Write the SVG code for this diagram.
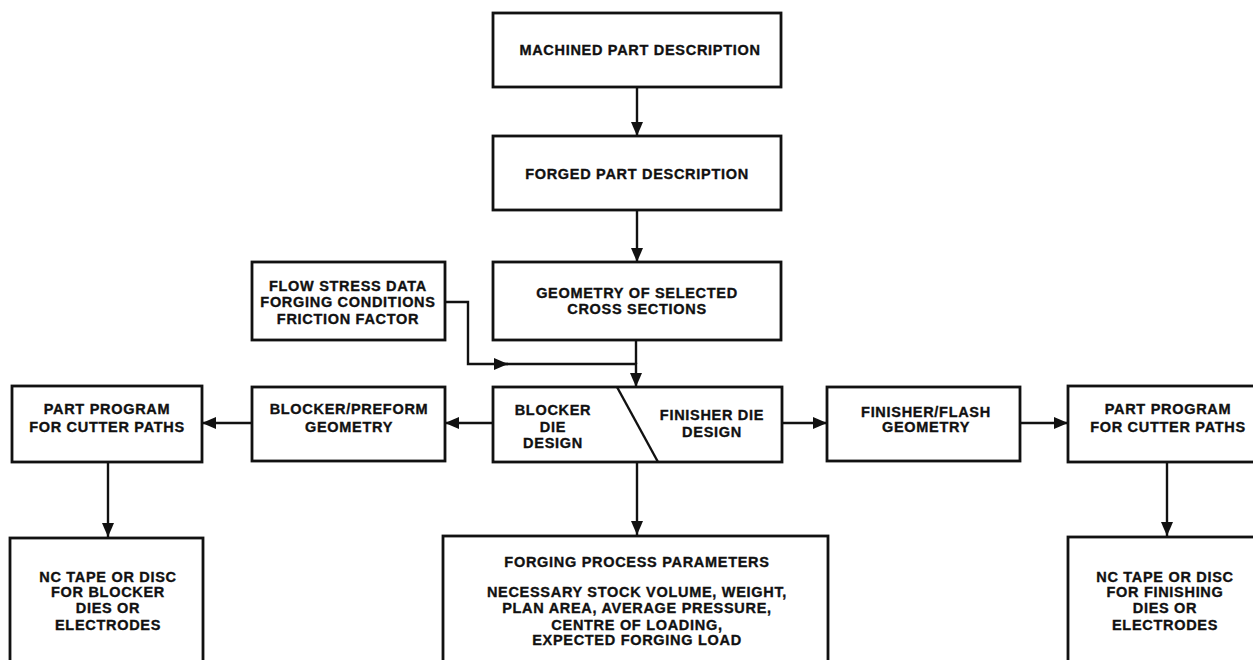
<svg xmlns="http://www.w3.org/2000/svg" width="1253" height="660" viewBox="0 0 1253 660">
<style>
.box{fill:#fff;stroke:#111;stroke-width:2.8}
.t{font-family:"Liberation Sans",Arial,sans-serif;font-weight:bold;font-size:14.5px;letter-spacing:0.7px;fill:#111;stroke:#111;stroke-width:0.35;text-anchor:middle}
.c{fill:none;stroke:#111;stroke-width:2.4}
</style>
<defs>
<marker id="ah" markerWidth="14" markerHeight="12" refX="14" refY="6" orient="auto" markerUnits="userSpaceOnUse">
<path d="M0,0 L14,6 L0,12 z" fill="#111"/>
</marker>
</defs>
<rect width="1253" height="660" fill="#fff"/>
<g id="connectors">
<path class="c" d="M637,87 V136" marker-end="url(#ah)"/>
<path class="c" d="M637,210 V262" marker-end="url(#ah)"/>
<path class="c" d="M445,302 H468 V364 H508" marker-end="url(#ah)"/>
<path class="c" d="M500,364 H636 V387" marker-end="url(#ah)"/>
<path class="c" d="M636,340 V364"/>
<path class="c" d="M493,423 H445" marker-end="url(#ah)"/>
<path class="c" d="M252,423 H202" marker-end="url(#ah)"/>
<path class="c" d="M782,423 H827" marker-end="url(#ah)"/>
<path class="c" d="M1020,423 H1068" marker-end="url(#ah)"/>
<path class="c" d="M108,462 V537" marker-end="url(#ah)"/>
<path class="c" d="M637,462 V535" marker-end="url(#ah)"/>
<path class="c" d="M1167,462 V536" marker-end="url(#ah)"/>
</g>
<g id="machined">
<rect class="box" x="493" y="13" width="288" height="74"/>
<text class="t" x="640" y="55">MACHINED PART DESCRIPTION</text>
</g>
<g id="forged">
<rect class="box" x="493" y="136" width="288" height="74"/>
<text class="t" x="637" y="179">FORGED PART DESCRIPTION</text>
</g>
<g id="flowstress">
<rect class="box" x="252" y="262" width="193" height="78"/>
<text class="t" x="348" y="291">FLOW STRESS DATA</text>
<text class="t" x="348" y="307">FORGING CONDITIONS</text>
<text class="t" x="348" y="324">FRICTION FACTOR</text>
</g>
<g id="geometry">
<rect class="box" x="493" y="262" width="288" height="78"/>
<text class="t" x="637" y="298">GEOMETRY OF SELECTED</text>
<text class="t" x="637" y="314">CROSS SECTIONS</text>
</g>
<g id="partprog-left">
<rect class="box" x="12" y="386" width="190" height="76"/>
<text class="t" x="107" y="414">PART PROGRAM</text>
<text class="t" x="107" y="432">FOR CUTTER PATHS</text>
</g>
<g id="blocker-preform">
<rect class="box" x="252" y="387" width="193" height="74"/>
<text class="t" x="349" y="414">BLOCKER/PREFORM</text>
<text class="t" x="349" y="432">GEOMETRY</text>
</g>
<g id="die-design">
<rect class="box" x="493" y="387" width="289" height="75"/>
<line class="c" x1="617" y1="387" x2="658" y2="462" stroke-width="2.8"/>
<text class="t" x="553" y="415">BLOCKER</text>
<text class="t" x="553" y="432">DIE</text>
<text class="t" x="553" y="448">DESIGN</text>
<text class="t" x="712" y="420">FINISHER DIE</text>
<text class="t" x="712" y="437">DESIGN</text>
</g>
<g id="finisher-flash">
<rect class="box" x="827" y="387" width="193" height="74"/>
<text class="t" x="926" y="417">FINISHER/FLASH</text>
<text class="t" x="926" y="432">GEOMETRY</text>
</g>
<g id="partprog-right">
<rect class="box" x="1068" y="386" width="200" height="76"/>
<text class="t" x="1168" y="414">PART PROGRAM</text>
<text class="t" x="1168" y="432">FOR CUTTER PATHS</text>
</g>
<g id="nc-blocker">
<rect class="box" x="10" y="538" width="193" height="140"/>
<text class="t" x="108" y="582">NC TAPE OR DISC</text>
<text class="t" x="108" y="597">FOR BLOCKER</text>
<text class="t" x="108" y="613">DIES OR</text>
<text class="t" x="108" y="630">ELECTRODES</text>
</g>
<g id="process-params">
<rect class="box" x="443" y="536" width="385" height="140"/>
<text class="t" x="637" y="567">FORGING PROCESS PARAMETERS</text>
<text class="t" x="637" y="597">NECESSARY STOCK VOLUME, WEIGHT,</text>
<text class="t" x="637" y="613">PLAN AREA, AVERAGE PRESSURE,</text>
<text class="t" x="637" y="630">CENTRE OF LOADING,</text>
<text class="t" x="637" y="645">EXPECTED FORGING LOAD</text>
</g>
<g id="nc-finishing">
<rect class="box" x="1068" y="537" width="200" height="140"/>
<text class="t" x="1165" y="582">NC TAPE OR DISC</text>
<text class="t" x="1165" y="597">FOR FINISHING</text>
<text class="t" x="1165" y="613">DIES OR</text>
<text class="t" x="1165" y="630">ELECTRODES</text>
</g>
</svg>
